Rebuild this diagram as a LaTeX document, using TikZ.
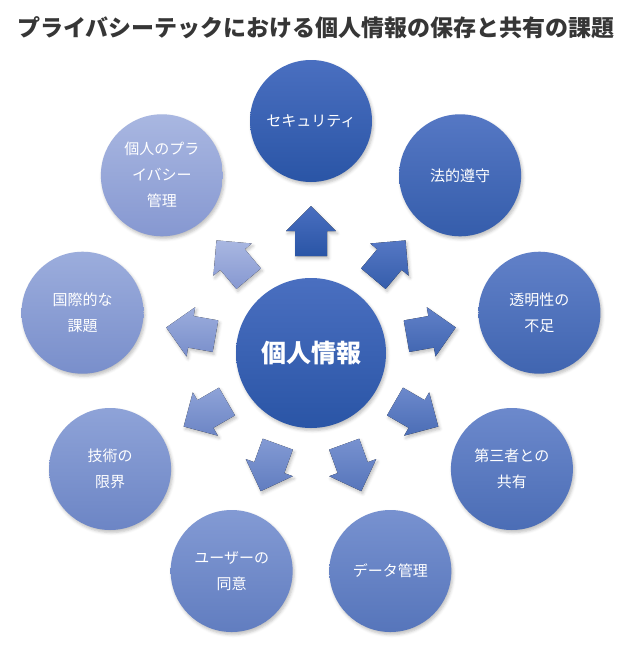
\documentclass[tikz,border=0pt]{standalone}
\usepackage{fontspec}
\setmainfont{Noto Sans CJK JP}
\usepackage{xcolor}
\usetikzlibrary{calc,shadows.blur}
\definecolor{ringtop}{HTML}{4A6FC0}
\definecolor{ringbot}{HTML}{2A55A6}
\definecolor{paletop}{HTML}{A9B7E1}
\definecolor{palebot}{HTML}{8698D1}
\definecolor{titlegrey}{HTML}{363636}
\tikzset{
  soft/.style={blur shadow={shadow xshift=1.5pt, shadow yshift=-2.5pt,
               shadow blur radius=3pt, shadow opacity=25}},
  hub/.style={
    circle, minimum size=150pt, inner sep=0pt, align=center, text=white,
    font=\fontsize{25}{30}\selectfont\bfseries,
    top color=ringtop, bottom color=ringbot, soft,
  },
  ring/.style={
    circle, minimum size=122pt, inner sep=0pt, align=center, text=white,
    font=\fontsize{15}{26}\selectfont,
    top color=ringtop!#1!paletop, bottom color=ringbot!#1!palebot, soft,
  },
  arrowbody/.style={top color=ringtop!#1!paletop,
                    bottom color=ringbot!#1!palebot, soft},
  title/.style={font=\fontsize{23}{27}\selectfont\bfseries, text=titlegrey,
                inner sep=0pt},
}
% block arrow pointing away from the hub: #1 = direction, #2 = shade mix
\newcommand{\outarrow}[2]{%
  \fill[arrowbody=#2]
    ($(info)+(#1:97)+(#1+90:16)$) -- ($(info)+(#1:122)+(#1+90:16)$) --
    ($(info)+(#1:122)+(#1+90:25)$) -- ($(info)+(#1:147)$) --
    ($(info)+(#1:122)+(#1-90:25)$) -- ($(info)+(#1:122)+(#1-90:16)$) --
    ($(info)+(#1:97)+(#1-90:16)$) -- cycle;}

\begin{document}
\begin{tikzpicture}[x=1pt, y=1pt]
\useasboundingbox (0,0) rectangle (632,-649);

% ---------------------------------------------------------------- title
\node[title] (head) at (316,-28)
  {プライバシーテックにおける個人情報の保存と共有の課題};

% ---------------------------------------------------------------- hub
\node[hub] (info) at (311,-353) {個人情報};

% ---------------------------------------------------------------- ring
\node[ring=100] (sec)     at ($(info)+(90:232)$)   {セキュリティ};
\node[ring=88]  (law)     at ($(info)+(50:232)$)   {法的遵守};
\node[ring=76]  (trans)   at ($(info)+(10:232)$)   {透明性の\\不足};
\node[ring=64]  (share)   at ($(info)+(-30:232)$)  {第三者との\\共有};
\node[ring=52]  (data)    at ($(info)+(-70:232)$)  {データ管理};
\node[ring=40]  (consent) at ($(info)+(-110:232)$) {ユーザーの\\同意};
\node[ring=28]  (tech)    at ($(info)+(-150:232)$) {技術の\\限界};
\node[ring=14]  (intl)    at ($(info)+(170:232)$)  {国際的な\\課題};
\node[ring=0]   (priv)    at ($(info)+(130:232)$)  {個人のプラ\\イバシー\\管理};

% ---------------------------------------------------------------- arrows
\outarrow{90}{100}
\outarrow{50}{88}
\outarrow{10}{76}
\outarrow{-30}{64}
\outarrow{-70}{52}
\outarrow{-110}{40}
\outarrow{-150}{28}
\outarrow{170}{14}
\outarrow{130}{0}

\end{tikzpicture}
\end{document}
